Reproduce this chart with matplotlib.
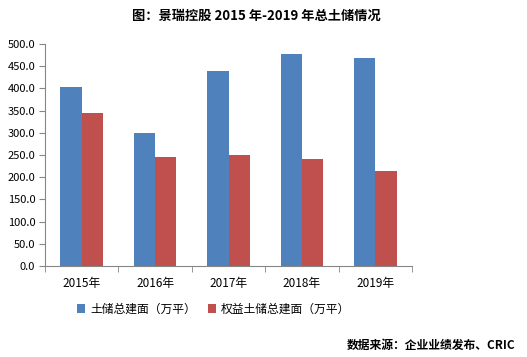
import matplotlib
matplotlib.use("Agg")
import matplotlib.pyplot as plt
import numpy as np

plt.rcParams['font.family'] = ['Noto Sans CJK SC', 'DejaVu Sans']

years = ["2015年", "2016年", "2017年", "2018年", "2019年"]
total_area = [403.0, 299.0, 439.0, 477.5, 468.5]
equity_area = [344.0, 245.0, 250.0, 241.0, 214.0]
series_names = ["土储总建面（万平）", "权益土储总建面（万平）"]

fig = plt.figure(figsize=(5.27, 3.57), dpi=100)
ax = fig.add_axes([45 / 527, 1 - 266 / 357, 367 / 527, 222 / 357])

x = np.arange(len(years))
w = 0.29
ax.bar(x - w / 2, total_area, w, color="#4F81BD", label=series_names[0])
ax.bar(x + w / 2, equity_area, w, color="#C0504D", label=series_names[1])

ax.set_xlim(-0.5, len(years) - 0.5)
ax.set_ylim(0, 500)
ax.set_yticks(np.arange(0, 501, 50))
ax.set_yticklabels([f"{v:.1f}" for v in np.arange(0, 501, 50)], fontsize=8)
ax.set_xticks(x)
ax.set_xticklabels(years, fontsize=8.5)
ax.tick_params(axis="x", length=0, pad=8)
ax.set_xticks(np.arange(-0.5, len(years), 1), minor=True)
ax.tick_params(axis="x", which="minor", length=4, color="#868686")
ax.tick_params(axis="y", length=4, color="#868686", pad=3)

for s in ["top", "right"]:
    ax.spines[s].set_visible(False)
for s in ["left", "bottom"]:
    ax.spines[s].set_color("#868686")

fig.text(0.487, 0.955, "图：景瑞控股 2015 年-2019 年总土储情况", ha="center", va="center",
         fontsize=9.5, fontweight="bold")
fig.legend(loc="center", bbox_to_anchor=(0.405, 1 - 309 / 357), ncol=2, frameon=False,
           fontsize=8.5, handlelength=0.7, handleheight=0.7, handletextpad=0.4, columnspacing=1.0)
fig.text(0.978, 1 - 345 / 357, "数据来源：企业业绩发布、CRIC", ha="right", va="center",
         fontsize=8.5, fontweight="bold")

fig.savefig("out.png", dpi=100)
